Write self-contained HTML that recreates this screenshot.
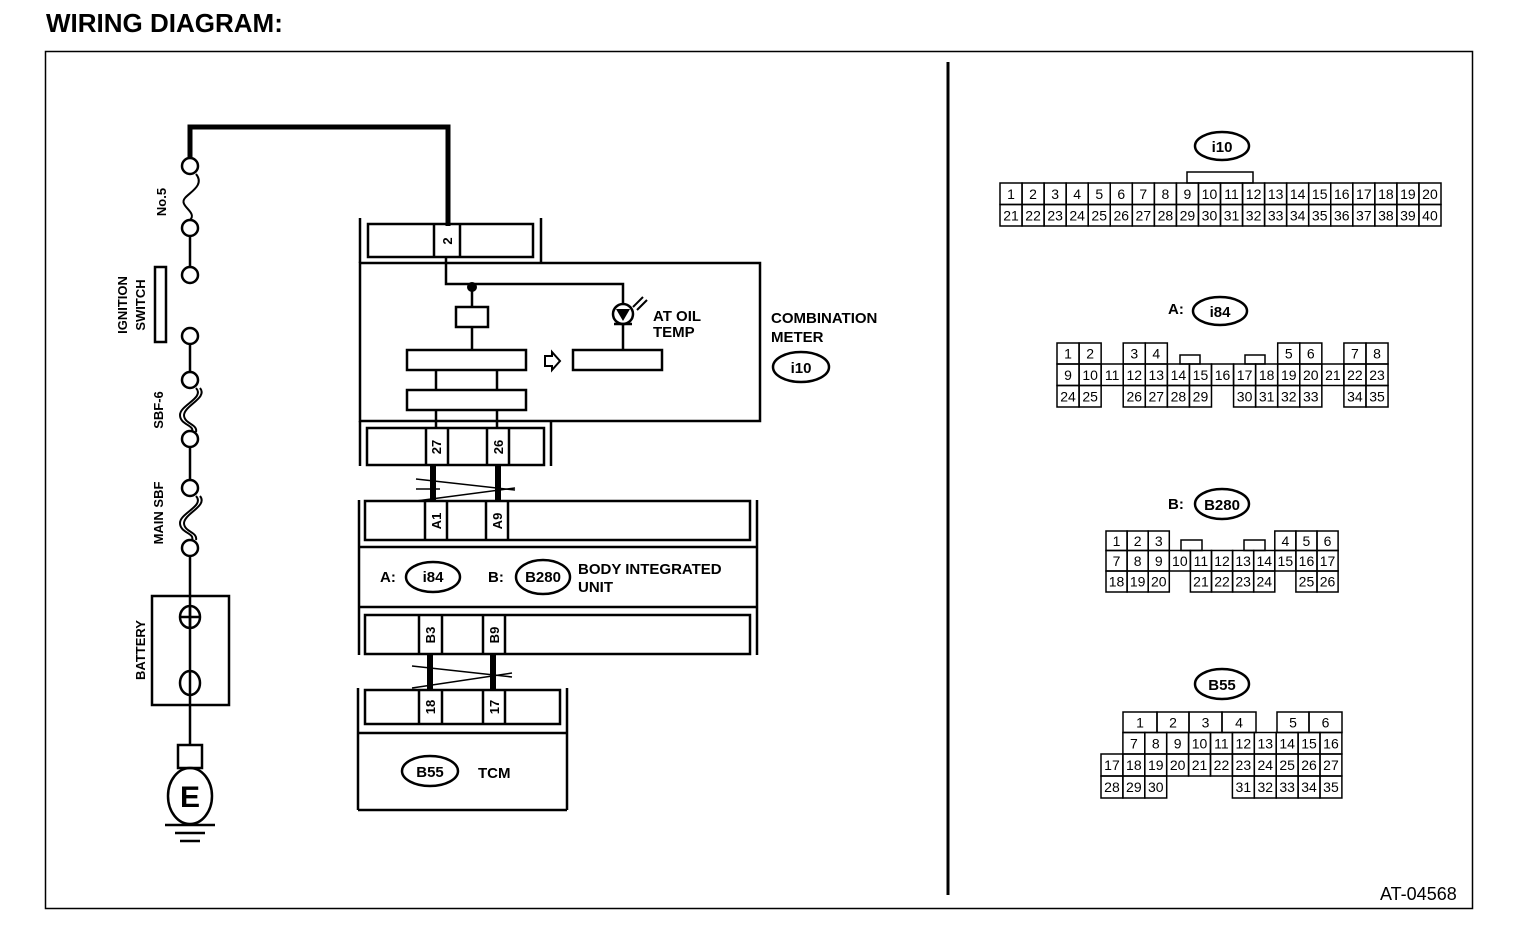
<!DOCTYPE html>
<html><head><style>
html,body{margin:0;padding:0;background:#fff;}
svg{display:block;font-family:"Liberation Sans",Arial,sans-serif;}
.b{font-weight:bold}
</style></head><body>
<svg width="1520" height="938" viewBox="0 0 1520 938" xmlns="http://www.w3.org/2000/svg">
<text x="46" y="32" font-size="26" class="b">WIRING DIAGRAM:</text>
<rect x="45.5" y="51.5" width="1427" height="857" fill="none" stroke="#000" stroke-width="1.5"/>
<line x1="948" y1="62" x2="948" y2="895" stroke="#000" stroke-width="3"/>
<text x="1380" y="900" font-size="18">AT-04568</text>

<g fill="none" stroke="#000" stroke-width="2.5">
<polyline points="190,158 190,127 448,127 448,226" stroke-width="5"/>
<line x1="190" y1="236" x2="190" y2="267"/>
<line x1="190" y1="344" x2="190" y2="372"/>
<line x1="190" y1="447" x2="190" y2="480"/>
<line x1="190" y1="556" x2="190" y2="745"/>
<circle cx="190" cy="166" r="8"/><circle cx="190" cy="228" r="8"/>
<circle cx="190" cy="275" r="8"/><circle cx="190" cy="336" r="8"/>
<circle cx="190" cy="380" r="8"/><circle cx="190" cy="439" r="8"/>
<circle cx="190" cy="488" r="8"/><circle cx="190" cy="548" r="8"/>
<path d="M196,174 C205,185 190,192 185,198 C178,206 198,212 190,220" stroke-width="2"/>
<path d="M196,388 C205,398 180,405 180,415 C180,425 195,425 192,432 M200,388 C208,398 185,405 184,415 C184,424 198,424 196,432" stroke-width="2"/>
<path d="M196,496 C205,506 180,513 180,523 C180,533 195,533 192,540 M200,496 C208,506 185,513 184,523 C184,532 198,532 196,540" stroke-width="2"/>
<rect x="155" y="267" width="11" height="75"/>
<rect x="152" y="596" width="77" height="109"/>
<ellipse cx="190" cy="617" rx="10" ry="11"/><line x1="180" y1="617" x2="200" y2="617"/><line x1="190" y1="606" x2="190" y2="628"/>
<ellipse cx="190" cy="683" rx="10" ry="12"/>
<rect x="178" y="745" width="24" height="23"/>
<ellipse cx="190" cy="796" rx="22" ry="28"/>
<line x1="165" y1="825" x2="215" y2="825"/><line x1="175" y1="833" x2="205" y2="833"/><line x1="180" y1="841" x2="200" y2="841"/>

<line x1="360" y1="218" x2="360" y2="263"/><line x1="541" y1="218" x2="541" y2="263"/>
<rect x="368" y="224" width="165" height="33"/>
<line x1="434" y1="224" x2="434" y2="257"/><line x1="460" y1="224" x2="460" y2="257"/>
<rect x="360" y="263" width="400" height="158"/>
<polyline points="446,257 446,284 623,284 623,303"/>
<line x1="472" y1="287" x2="472" y2="307"/>
<rect x="456" y="307" width="32" height="20"/>
<line x1="472" y1="327" x2="472" y2="350"/>
<rect x="407" y="350" width="119" height="20"/>
<line x1="436" y1="370" x2="436" y2="390"/><line x1="497" y1="370" x2="497" y2="390"/>
<rect x="407" y="390" width="119" height="20"/>
<line x1="436" y1="410" x2="436" y2="428"/><line x1="497" y1="410" x2="497" y2="428"/>
<rect x="573" y="350" width="89" height="20"/>
<circle cx="623" cy="314" r="10"/>
<line x1="623" y1="324" x2="623" y2="350"/>
<line x1="614" y1="324" x2="632" y2="324"/>
<line x1="633" y1="307" x2="643" y2="297" stroke-width="2"/><line x1="637" y1="310" x2="647" y2="300" stroke-width="2"/>
<path d="M545,356 L552,356 L552,352 L560,361 L552,370 L552,366 L545,366 Z" stroke-width="2"/>
<line x1="360" y1="421" x2="360" y2="466"/><line x1="551" y1="421" x2="551" y2="466"/>
<rect x="367" y="428" width="177" height="37"/>
<line x1="426" y1="428" x2="426" y2="465"/><line x1="448" y1="428" x2="448" y2="465"/>
<line x1="487" y1="428" x2="487" y2="465"/><line x1="509" y1="428" x2="509" y2="465"/>
<line x1="433" y1="465" x2="433" y2="501" stroke-width="6"/>
<line x1="498" y1="465" x2="498" y2="501" stroke-width="6"/>
<line x1="416" y1="479" x2="515" y2="490" stroke-width="1.5"/>
<line x1="416" y1="501" x2="515" y2="488" stroke-width="1.5"/>
<line x1="416" y1="489" x2="440" y2="489" stroke-width="1.5"/>
<line x1="359" y1="500" x2="359" y2="655"/><line x1="757" y1="500" x2="757" y2="655"/>
<rect x="365" y="501" width="385" height="39"/>
<line x1="425" y1="501" x2="425" y2="540"/><line x1="447" y1="501" x2="447" y2="540"/>
<line x1="486" y1="501" x2="486" y2="540"/><line x1="508" y1="501" x2="508" y2="540"/>
<line x1="359" y1="547" x2="757" y2="547"/><line x1="359" y1="607" x2="757" y2="607"/>
<rect x="365" y="615" width="385" height="39"/>
<line x1="419" y1="615" x2="419" y2="654"/><line x1="442" y1="615" x2="442" y2="654"/>
<line x1="483" y1="615" x2="483" y2="654"/><line x1="505" y1="615" x2="505" y2="654"/>
<line x1="430" y1="654" x2="430" y2="690" stroke-width="6"/>
<line x1="493" y1="654" x2="493" y2="690" stroke-width="6"/>
<line x1="412" y1="666" x2="512" y2="677" stroke-width="1.5"/>
<line x1="412" y1="688" x2="512" y2="673" stroke-width="1.5"/>
<line x1="358" y1="688" x2="358" y2="810"/><line x1="567" y1="688" x2="567" y2="810"/>
<rect x="365" y="690" width="195" height="34"/>
<line x1="419" y1="690" x2="419" y2="724"/><line x1="442" y1="690" x2="442" y2="724"/>
<line x1="483" y1="690" x2="483" y2="724"/><line x1="505" y1="690" x2="505" y2="724"/>
<line x1="358" y1="733" x2="567" y2="733"/><line x1="358" y1="810" x2="567" y2="810"/>
<ellipse cx="801" cy="367" rx="28" ry="15"/>
<ellipse cx="433" cy="577" rx="27" ry="15"/>
<ellipse cx="543" cy="577" rx="27" ry="17"/>
<ellipse cx="430" cy="771" rx="28" ry="15"/>
<ellipse cx="1222" cy="146" rx="27" ry="14"/>
<ellipse cx="1220" cy="311" rx="27" ry="14"/>
<ellipse cx="1222" cy="504" rx="27" ry="15"/>
<ellipse cx="1222" cy="684" rx="27" ry="15"/>
</g>
<circle cx="472" cy="287" r="5" fill="#000"/>
<path d="M616,309 L630,309 L623,321 Z" fill="#000"/>
<text x="190" y="807" font-size="30" class="b" text-anchor="middle">E</text>

<g class="b" font-size="13">
<text transform="translate(166,202) rotate(-90)" text-anchor="middle">No.5</text>
<text transform="translate(127,305) rotate(-90)" text-anchor="middle">IGNITION</text>
<text transform="translate(145,305) rotate(-90)" text-anchor="middle">SWITCH</text>
<text transform="translate(163,410) rotate(-90)" text-anchor="middle">SBF-6</text>
<text transform="translate(163,513) rotate(-90)" text-anchor="middle">MAIN SBF</text>
<text transform="translate(145,650) rotate(-90)" text-anchor="middle">BATTERY</text>
<text transform="translate(452,241) rotate(-90)" text-anchor="middle">2</text>
<text transform="translate(441,447) rotate(-90)" text-anchor="middle">27</text>
<text transform="translate(503,447) rotate(-90)" text-anchor="middle">26</text>
<text transform="translate(441,521) rotate(-90)" text-anchor="middle">A1</text>
<text transform="translate(502,521) rotate(-90)" text-anchor="middle">A9</text>
<text transform="translate(435,635) rotate(-90)" text-anchor="middle">B3</text>
<text transform="translate(499,635) rotate(-90)" text-anchor="middle">B9</text>
<text transform="translate(435,707) rotate(-90)" text-anchor="middle">18</text>
<text transform="translate(499,707) rotate(-90)" text-anchor="middle">17</text>
</g>
<g class="b" font-size="15">
<text x="653" y="321">AT OIL</text><text x="653" y="337">TEMP</text>
<text x="771" y="323">COMBINATION</text><text x="771" y="342">METER</text>
<text x="801" y="373" text-anchor="middle">i10</text>
<text x="380" y="582">A:</text><text x="433" y="582" text-anchor="middle">i84</text>
<text x="488" y="582">B:</text><text x="543" y="582" text-anchor="middle">B280</text>
<text x="578" y="574">BODY INTEGRATED</text><text x="578" y="592">UNIT</text>
<text x="430" y="777" text-anchor="middle">B55</text>
<text x="478" y="778">TCM</text>
<text x="1222" y="152" text-anchor="middle">i10</text>
<text x="1168" y="314">A:</text><text x="1220" y="317" text-anchor="middle">i84</text>
<text x="1168" y="509">B:</text><text x="1222" y="510" text-anchor="middle">B280</text>
<text x="1222" y="690" text-anchor="middle">B55</text>
</g>

<g id="conns" fill="none" stroke="#000" stroke-width="1.5" font-size="14" text-anchor="middle"></g>
<g font-size="14" text-anchor="middle" fill="#000" stroke="none" id="ctext"></g>
<script>
(function(){
var g=document.getElementById('conns'),t=document.getElementById('ctext'),NS='http://www.w3.org/2000/svg';
function cell(x,y,w,h,l){var r=document.createElementNS(NS,'rect');r.setAttribute('x',x);r.setAttribute('y',y);r.setAttribute('width',w);r.setAttribute('height',h);g.appendChild(r);
var s=document.createElementNS(NS,'text');s.setAttribute('x',x+w/2);s.setAttribute('y',y+h/2+5);s.textContent=l;t.appendChild(s);}
function tab(x,y,w,h){var r=document.createElementNS(NS,'rect');r.setAttribute('x',x);r.setAttribute('y',y);r.setAttribute('width',w);r.setAttribute('height',h);g.appendChild(r);}
var w=22.05,i;
for(i=0;i<20;i++){cell(1000+i*w,183,w,21.5,i+1);cell(1000+i*w,204.5,w,21.5,i+21);}
tab(1187,172,66,11);
w=22.07;var x0=1057;
var r1=[[0,1],[1,2],[3,3],[4,4],[10,5],[11,6],[13,7],[14,8]];
r1.forEach(function(a){cell(x0+a[0]*w,343,w,21,a[1]);});
for(i=0;i<15;i++)cell(x0+i*w,364,w,21.5,i+9);
var r3=[[0,24],[1,25],[3,26],[4,27],[5,28],[6,29],[8,30],[9,31],[10,32],[11,33],[13,34],[14,35]];
r3.forEach(function(a){cell(x0+a[0]*w,385.5,w,21.5,a[1]);});
tab(1180,355,20,9);tab(1245,355,20,9);
w=21.1;x0=1106;
[[0,1],[1,2],[2,3],[8,4],[9,5],[10,6]].forEach(function(a){cell(x0+a[0]*w,531,w,19.5,a[1]);});
for(i=0;i<11;i++)cell(x0+i*w,550.5,w,20.5,i+7);
[[0,18],[1,19],[2,20],[4,21],[5,22],[6,23],[7,24],[9,25],[10,26]].forEach(function(a){cell(x0+a[0]*w,571,w,21,a[1]);});
tab(1181,540,21,10.5);tab(1244,540,21,10.5);
cell(1123,712,34,20.5,1);cell(1157,712,32,20.5,2);cell(1189,712,33,20.5,3);cell(1222,712,34,20.5,4);cell(1277,712,32,20.5,5);cell(1309,712,33,20.5,6);
w=21.9;x0=1101;
for(i=1;i<11;i++)cell(x0+i*w,732.5,w,21.5,i+6);
for(i=0;i<11;i++)cell(x0+i*w,754,w,22,i+17);
[[0,28],[1,29],[2,30],[6,31],[7,32],[8,33],[9,34],[10,35]].forEach(function(a){cell(x0+a[0]*w,776,w,22,a[1]);});
})();
</script>
</svg>
</body></html>
